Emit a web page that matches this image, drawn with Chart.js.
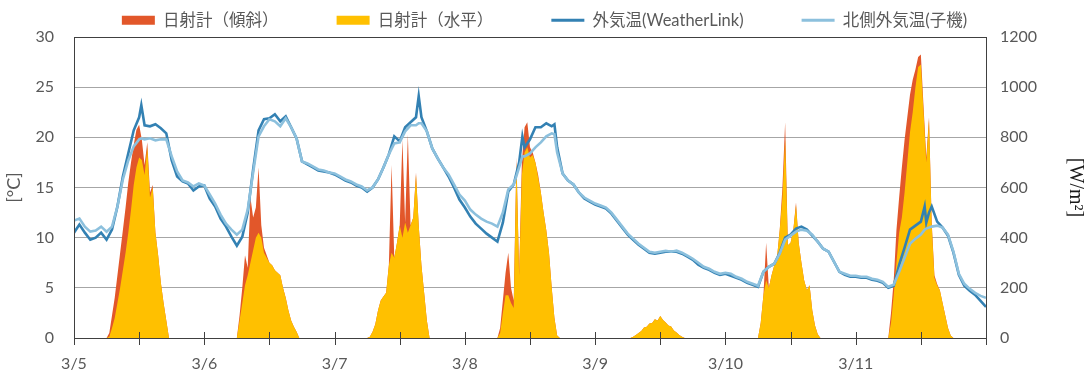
<!DOCTYPE html>
<html><head><meta charset="utf-8">
<script src="https://cdn.jsdelivr.net/npm/chart.js@4/dist/chart.umd.min.js"></script>
<style>html,body{margin:0;padding:0;background:#fff;}</style>
</head><body>
<canvas id="c" width="1089" height="376"></canvas>
<script>
// ---- data ----
const dayLabels = ['3/5','3/6','3/7','3/8','3/9','3/10','3/11'];
const seriesNames = ['日射計（傾斜）','日射計（水平）','外気温(WeatherLink)','北側外気温(子機)'];
// radiation [W/m2], per day, from 6:00 to 18:00 every 30 min
const radStartHour = 6;
const radStepHour = 0.5;
const radHoriz = [
  [0,5,40,80,140,200,270,340,420,510,610,680,720,710,650,760,560,600,420,330,220,140,70,0,0],
  [0,70,140,210,250,300,350,400,420,400,340,320,300,290,270,260,250,200,160,110,70,45,25,0,0],
  [0,5,25,55,110,150,165,180,290,340,320,380,450,400,460,420,450,480,650,450,290,180,70,0,0],
  [0,20,100,170,170,140,120,700,250,650,740,760,720,730,700,640,580,500,430,340,200,80,10,0,0],
  [0,0,5,12,20,28,42,45,58,60,75,70,88,72,62,50,46,30,22,12,5,0,0,0,0],
  [0,60,170,230,200,250,290,320,430,560,790,370,380,430,530,380,300,230,190,210,110,50,15,0,0],
  [0,60,170,300,420,480,580,700,820,900,1000,1080,1090,900,700,870,450,240,210,190,140,90,40,10,0]
];
const radTilt = [
  [0,20,90,160,250,340,430,520,620,700,770,830,850,790,690,780,580,610,420,330,220,140,70,0,0],
  [0,90,200,330,280,560,480,520,680,450,360,330,300,290,270,260,250,200,160,110,70,45,25,0,0],
  [0,5,25,55,110,150,165,180,290,690,320,380,450,790,460,810,450,480,660,450,290,180,70,0,0],
  [0,40,150,260,340,200,150,720,260,700,840,860,760,740,700,650,580,500,430,340,200,80,10,0,0],
  [0,0,5,12,20,28,42,45,58,60,75,70,88,72,62,50,46,30,22,12,5,0,0,0,0],
  [0,60,170,380,200,250,290,320,430,600,860,370,380,430,540,380,300,230,190,210,110,50,15,0,0],
  [0,100,230,430,560,680,790,880,970,1030,1070,1120,1130,920,720,880,460,250,215,190,140,90,40,10,0]
];
// temperature [°C], hours since 3/5 0:00
const tempHours = [0,1,2,3,4,5,6,7,8,9,10,11,12,12.4,
 13,14,15,16,17,18,19,20,21,22,23,24,
 25,26,27,28,29,30,31,32,33,34,35,36,
 37,38,39,40,41,42,43,44,45,46,47,48,
 49,50,51,52,53,54,55,56,57,58,59,60,
 61,62,63,63.5,
 64,65,66,67,68,69,70,71,72,
 73,74,75,76,77,78,79,80,81,82,82.6,
 83,84,85,86,87,88,88.5,
 89,90,91,92,93,94,95,96,
 97,98,99,100,101,102,103,104,105,106,107,108,
 109,110,111,112,113,114,115,116,117,118,119,120,
 121,122,123,124,125,126,127,128,129,130,131,132,
 133,134,135,136,137,138,139,140,141,142,143,144,
 145,146,147,148,149,150,151,152,153,154,155,156,156.7,157,157.5,
 158,159,160,161,162,163,164,165,166,167,168];
const tempWeatherLink = [10.5,11.3,10.5,9.8,10.0,10.5,9.8,10.8,13.1,16.1,18.4,20.7,22.0,23.2,
 21.2,21.1,21.3,20.9,20.4,17.7,16.1,15.6,15.4,14.7,15.1,15.2,
 13.9,13.1,11.9,11.1,10.1,9.2,10.1,12.5,16.8,20.7,21.8,21.9,
 22.3,21.6,22.1,21.0,19.9,17.6,17.3,17.0,16.7,16.6,16.5,16.3,
 16.0,15.7,15.5,15.2,15.0,14.6,15.0,15.8,17.0,18.3,20.1,19.6,
 21.0,21.5,22.0,24.1,
 22.0,20.6,18.9,17.9,17.0,16.1,15.0,13.8,13.0,
 12.1,11.4,10.9,10.4,10.0,9.6,11.5,14.6,15.3,17.5,20.1,
 19.0,19.8,21.0,21.0,21.4,21.1,21.3,
 19.0,16.4,15.7,15.3,14.5,13.9,13.6,13.3,
 13.1,12.9,12.4,11.7,11.0,10.3,9.8,9.3,8.9,8.5,8.4,8.5,
 8.6,8.6,8.6,8.4,8.1,7.8,7.3,7.0,6.8,6.5,6.3,6.4,
 6.2,6.0,5.8,5.5,5.3,5.1,6.6,7.1,7.4,8.5,10.0,10.3,
 10.9,11.1,10.8,10.2,9.6,8.9,8.6,7.6,6.6,6.3,6.1,6.1,
 6.0,6.0,5.8,5.7,5.5,5.0,5.2,7.3,9.0,10.8,11.2,11.6,13.1,11.5,12.5,
 13.1,11.6,11.0,10.2,8.5,6.3,5.2,4.7,4.3,3.7,3.1];
const tempNorth = [11.7,11.9,11.1,10.6,10.7,11.1,10.6,11.1,13.1,15.8,17.7,19.1,19.8,19.9,
 19.8,19.9,19.7,19.8,19.8,18.1,16.6,15.7,15.5,15.1,15.4,15.2,
 14.3,13.4,12.3,11.4,10.8,10.3,10.8,12.8,16.5,20.1,21.1,21.8,
 21.6,21.1,21.9,21.0,19.9,17.6,17.4,17.1,16.8,16.7,16.5,16.4,
 16.1,15.8,15.6,15.3,15.1,14.7,15.0,15.8,17.0,18.3,19.4,19.5,
 20.6,21.2,21.2,21.4,
 21.4,20.6,18.9,17.9,17.0,16.3,15.3,14.3,13.7,
 12.8,12.3,11.9,11.6,11.4,11.1,12.5,14.8,15.3,17.0,18.1,
 18.1,18.4,19.0,19.5,20.1,20.4,20.3,
 18.5,16.4,15.7,15.3,14.5,14.0,13.7,13.4,
 13.2,13.0,12.5,11.8,11.1,10.4,9.9,9.4,9.0,8.6,8.5,8.6,
 8.7,8.6,8.7,8.5,8.2,7.9,7.5,7.1,6.9,6.6,6.4,6.5,
 6.4,6.1,5.9,5.6,5.4,5.2,6.6,7.1,7.4,8.4,9.8,10.2,
 10.6,10.8,10.7,10.3,9.6,8.9,8.6,7.6,6.6,6.4,6.2,6.2,
 6.1,6.1,5.9,5.8,5.6,5.1,5.3,6.6,8.0,9.4,9.9,10.3,10.8,10.9,11.0,
 11.1,11.2,11.0,10.3,8.6,6.4,5.4,4.9,4.5,4.2,4.0];
const xMaxHour = 168;

// ---- build points ----
function radPoints(days){
  const pts = [{x:0,y:0}];
  days.forEach((vals, d) => vals.forEach((v, i) => pts.push({x: d*24 + radStartHour + i*radStepHour, y: v})));
  pts.push({x:xMaxHour, y:0});
  return pts;
}
const tempPoints = vals => tempHours.map((h, i) => ({x: h, y: vals[i]}));

const FONT = "Lato, 'Noto Sans CJK JP', sans-serif";
const GRAY = '#595959';

const frame = {
  id: 'frame',
  afterDatasetsDraw(chart){
    const {ctx, chartArea: a, scales} = chart;
    ctx.save();
    ctx.strokeStyle = '#404040';
    ctx.lineWidth = 1;
    ctx.strokeRect(Math.round(a.left)+0.5, Math.round(a.top)+0.5, Math.round(a.right-a.left), Math.round(a.bottom-a.top));
    ctx.beginPath();
    scales.x.ticks.forEach(t => {
      const px = Math.round(scales.x.getPixelForValue(t.value)) + 0.5;
      ctx.moveTo(px, a.bottom - 6);
      ctx.lineTo(px, a.bottom + 7);
    });
    ctx.stroke();
    ctx.restore();
  }
};
const legendFit = {
  id: 'legendFit',
  beforeInit(chart){
    const lg = chart.legend;
    if (lg) { const f = lg.fit; lg.fit = function(){ f.call(this); this.height = 83; }; }
  }
};

new Chart(document.getElementById('c'), {
  type: 'line',
  data: {
    datasets: [
      {label: seriesNames[0], data: radPoints(radTilt), yAxisID:'yR', fill:'origin', backgroundColor:'#E2572A', borderColor:'#E2572A', borderWidth:0, pointRadius:0, order:3},
      {label: seriesNames[1], data: radPoints(radHoriz), yAxisID:'yR', fill:'origin', backgroundColor:'#FFC000', borderColor:'#FFC000', borderWidth:0, pointRadius:0, order:2},
      {label: seriesNames[2], data: tempPoints(tempWeatherLink), yAxisID:'y', fill:false, borderColor:'#3381B3', borderWidth:2.6, pointRadius:0, order:1},
      {label: seriesNames[3], data: tempPoints(tempNorth), yAxisID:'y', fill:false, borderColor:'#8CC0DD', borderWidth:2.6, pointRadius:0, order:0}
    ]
  },
  options: {
    responsive: false,
    animation: false,
    events: [],
    layout: {padding: {top: -46, left: 0, right: 0, bottom: 0}},
    plugins: {
      tooltip: {enabled:false},
      legend: {
        position: 'top',
        sort: (a, b) => a.datasetIndex - b.datasetIndex,
        labels: {
          usePointStyle: true,
          pointStyleWidth: 33,
          boxHeight: 9,
          padding: 58,
          color: GRAY,
          font: {family: FONT, size: 16.5},
          generateLabels(chart){
            return chart.data.datasets.map((ds, i) => {
              const area = ds.fill === 'origin';
              return {
                text: ds.label, datasetIndex: i, hidden: false,
                fillStyle: area ? ds.backgroundColor : ds.borderColor,
                strokeStyle: area ? ds.backgroundColor : ds.borderColor,
                lineWidth: area ? 0 : 3,
                pointStyle: area ? 'rect' : 'line',
                fontColor: GRAY
              };
            });
          }
        }
      }
    },
    scales: {
      x: {
        type: 'linear', min: 0, max: xMaxHour,
        grid: {display: false},
        border: {display: false},
        afterFit: s => { s.height = 38; },
        ticks: {
          stepSize: 12, autoSkip: false, maxRotation: 0, padding: 8,
          color: GRAY, font: {family: FONT, size: 16},
          callback: v => (v % 24 === 0 && v / 24 < dayLabels.length) ? dayLabels[v / 24] : ''
        }
      },
      y: {
        position: 'left', min: 0, max: 30,
        afterFit: s => { s.width = 74; },
        grid: {color: '#A6A6A6', lineWidth: 1, drawTicks: false},
        border: {display: false},
        ticks: {stepSize: 5, padding: 20, color: GRAY, font: {family: FONT, size: 16}},
        title: {display: true, text: '[°C]', color: GRAY, font: {family: FONT, size: 18}, padding: {top: 3, bottom: 0}}
      },
      yR: {
        position: 'right', min: 0, max: 1200,
        afterFit: s => { s.width = 103; },
        grid: {display: false, drawTicks: false},
        border: {display: false},
        ticks: {stepSize: 200, padding: 14, color: GRAY, font: {family: FONT, size: 16}, callback: v => String(v)},
        title: {display: true, text: '[W/m²]', color: '#1a1a1a', font: {family: "'Liberation Serif', 'DejaVu Serif', serif", size: 20}, padding: {top: 2, bottom: 0}}
      }
    }
  },
  plugins: [frame, legendFit]
});
</script>
</body></html>
